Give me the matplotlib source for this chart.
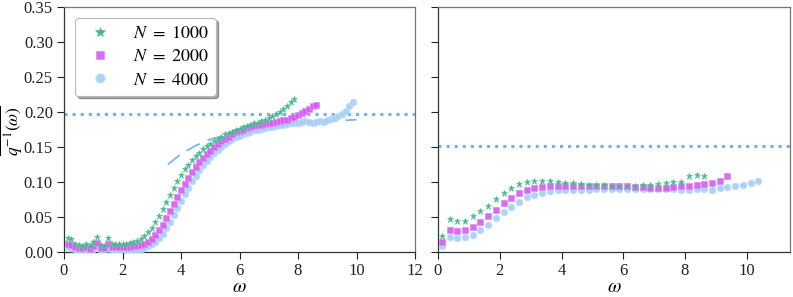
import numpy as np
import matplotlib
matplotlib.use("Agg")
import matplotlib.pyplot as plt

plt.rcParams['font.family'] = ['Liberation Serif', 'DejaVu Serif']
plt.rcParams['mathtext.fontset'] = 'stix'

# frequency grids (regular sampling)
step_left = 0.125
step_right = 0.25

labels = [r'$N\ =\ 1000$', r'$N\ =\ 2000$', r'$N\ =\ 4000$']
colors = ['#2fa886', '#d35cf2', '#a5cdf7']
edge_colors = ['#5cbf9f', '#e08ef5', '#bddcfa']
markers = ['*', 's', 'o']

# left panel: mean inverse participation ratio
left_n1000 = [0.020, 0.018, 0.012, 0.010, 0.009, 0.011, 0.008, 0.015,
              0.021, 0.010, 0.009, 0.020, 0.012, 0.012, 0.012, 0.012,
              0.012, 0.013, 0.014, 0.016, 0.019, 0.023, 0.028, 0.034,
              0.043, 0.052, 0.062, 0.072, 0.082, 0.092, 0.101, 0.110,
              0.118, 0.125, 0.131, 0.137, 0.142, 0.147, 0.151, 0.155,
              0.159, 0.162, 0.165, 0.168, 0.170, 0.172, 0.174, 0.176,
              0.178, 0.180, 0.182, 0.184, 0.185, 0.187, 0.189, 0.191,
              0.194, 0.197, 0.200, 0.204, 0.209, 0.215, 0.219]
left_n2000 = [0.012, 0.010, 0.007, 0.006, 0.006, 0.007, 0.005, 0.009,
              0.013, 0.006, 0.006, 0.012, 0.007, 0.007, 0.007, 0.007,
              0.007, 0.007, 0.008, 0.009, 0.010, 0.012, 0.015, 0.019,
              0.024, 0.031, 0.039, 0.048, 0.058, 0.068, 0.078, 0.088,
              0.097, 0.106, 0.114, 0.121, 0.128, 0.134, 0.140, 0.145,
              0.150, 0.154, 0.158, 0.162, 0.165, 0.168, 0.171, 0.173,
              0.175, 0.177, 0.179, 0.180, 0.181, 0.182, 0.183, 0.184,
              0.185, 0.186, 0.187, 0.188, 0.189, 0.191, 0.193, 0.196,
              0.199, 0.202, 0.205, 0.208, 0.210]
left_n4000 = [0.007, 0.006, 0.004, 0.003, 0.003, 0.004, 0.003, 0.005,
              0.007, 0.003, 0.003, 0.006, 0.003, 0.003, 0.003, 0.003,
              0.003, 0.003, 0.003, 0.004, 0.005, 0.006, 0.008, 0.011,
              0.015, 0.020, 0.026, 0.034, 0.043, 0.053, 0.063, 0.073,
              0.083, 0.092, 0.101, 0.109, 0.117, 0.124, 0.130, 0.136,
              0.141, 0.146, 0.150, 0.154, 0.158, 0.161, 0.164, 0.166,
              0.168, 0.170, 0.172, 0.174, 0.175, 0.176, 0.177, 0.178,
              0.179, 0.180, 0.181, 0.182, 0.183, 0.184, 0.184, 0.185,
              0.186, 0.187, 0.186, 0.185, 0.186, 0.187, 0.186, 0.188,
              0.190, 0.192, 0.194, 0.197, 0.201, 0.208, 0.215]

# dashed fit curve and dotted asymptote (left)
fit_w = [3.55, 4.0, 4.5, 5.0, 6.0, 7.0, 8.0, 9.0, 10.0]
fit_q = [0.125, 0.140, 0.152, 0.161, 0.172, 0.179, 0.184, 0.187, 0.189]
left_level = 0.197

# right panel
right_n1000 = [0.023, 0.047, 0.044, 0.045, 0.051, 0.058, 0.066, 0.076,
               0.085, 0.092, 0.097, 0.100, 0.102, 0.102, 0.101, 0.100,
               0.099, 0.098, 0.097, 0.096, 0.096, 0.096, 0.095, 0.095,
               0.095, 0.095, 0.096, 0.096, 0.097, 0.099, 0.100, 0.100,
               0.108, 0.110, 0.108]
right_n2000 = [0.014, 0.032, 0.030, 0.031, 0.036, 0.043, 0.051, 0.060,
               0.070, 0.077, 0.084, 0.088, 0.091, 0.093, 0.094, 0.094,
               0.094, 0.094, 0.094, 0.094, 0.094, 0.094, 0.094, 0.094,
               0.094, 0.093, 0.093, 0.092, 0.092, 0.092, 0.093, 0.094,
               0.095, 0.096, 0.097, 0.099, 0.101, 0.109]
right_n4000 = [0.008, 0.022, 0.020, 0.021, 0.025, 0.032, 0.039, 0.048,
               0.057, 0.065, 0.072, 0.078, 0.082, 0.085, 0.087, 0.088,
               0.088, 0.088, 0.089, 0.089, 0.090, 0.090, 0.090, 0.090,
               0.090, 0.090, 0.090, 0.090, 0.090, 0.090, 0.090, 0.089,
               0.088, 0.090, 0.090, 0.089, 0.091, 0.093, 0.095, 0.096,
               0.098, 0.101]
right_level = 0.152


def omega_grid(n, step):
    # left grid starts at one step, right grid at half a step
    if step == step_right:
        return step * np.arange(n) + step / 2
    return step * np.arange(1, n + 1)


def style_axes(ax):
    ax.tick_params(direction='out', length=5, width=0.8, pad=3,
                   labelsize=12, colors='#222222')
    for s in ['left', 'bottom']:
        ax.spines[s].set_color('#333333')
        ax.spines[s].set_linewidth(0.9)
    for s in ['top', 'right']:
        ax.spines[s].set_color('#777777')
        ax.spines[s].set_linewidth(0.9)


fig = plt.figure(figsize=(7.93, 2.97), dpi=100)
ax1 = fig.add_axes([64 / 793, 45 / 297, 351 / 793, 245 / 297])
ax2 = fig.add_axes([438 / 793, 45 / 297, 352 / 793, 245 / 297], sharey=ax1)

left_series = [left_n1000, left_n2000, left_n4000]
right_series = [right_n1000, right_n2000, right_n4000]
sizes = [5.0, 4.0, 4.8]

ax1.axhline(left_level, color='#6fb2f4', linestyle=':', linewidth=2.2, zorder=1)
ax1.plot(fit_w, fit_q, color='#6fb2f4', linestyle=(0, (9, 5)), linewidth=1.2, zorder=1)

handles = [None] * 3
for i in [2, 1, 0]:
    y = left_series[i]
    h, = ax1.plot(omega_grid(len(y), step_left), y, linestyle='none',
                  marker=markers[i], markersize=sizes[i], color=colors[i],
                  markeredgecolor=edge_colors[i], markeredgewidth=0.6,
                  alpha=0.9, label=labels[i], zorder=3 + (2 - i))
    handles[i] = h

ax2.axhline(right_level, color='#6fb2f4', linestyle=':', linewidth=2.2, zorder=1)
for i in [2, 1, 0]:
    y = right_series[i]
    ax2.plot(omega_grid(len(y), step_right), y, linestyle='none',
             marker=markers[i], markersize=sizes[i], color=colors[i],
             markeredgecolor=edge_colors[i], markeredgewidth=0.6,
             alpha=0.9, zorder=3 + (2 - i))

ax1.set_xlim(0, 12)
ax1.set_ylim(0, 0.35)
ax1.set_xticks(np.arange(0, 13, 2))
ax1.set_yticks(np.arange(0, 0.351, 0.05))
ax1.yaxis.set_major_formatter(matplotlib.ticker.FormatStrFormatter('%.2f'))
ax2.set_xlim(0, 11.4)
ax2.set_xticks(np.arange(0, 11, 2))
ax2.tick_params(labelleft=False)

for ax in (ax1, ax2):
    style_axes(ax)
    ax.set_xlabel(r'$\omega$', fontsize=14, labelpad=0)

# y label placed as figure text so the overline stays inside the canvas
fig.text(12 / 793, 0.5 + 18 / 297, r'$\overline{q^{-1}(\omega)}$', fontsize=12.5,
         rotation=90, ha='center', va='center')

leg = ax1.legend(handles=handles, loc='upper left', fontsize=13,
                 frameon=True, fancybox=True, shadow=True, markerscale=1.4,
                 borderaxespad=0.6, handletextpad=0.8, labelspacing=0.35,
                 edgecolor='#bbbbbb')
leg.get_frame().set_linewidth(0.8)

fig.savefig('out.png', dpi=100)
